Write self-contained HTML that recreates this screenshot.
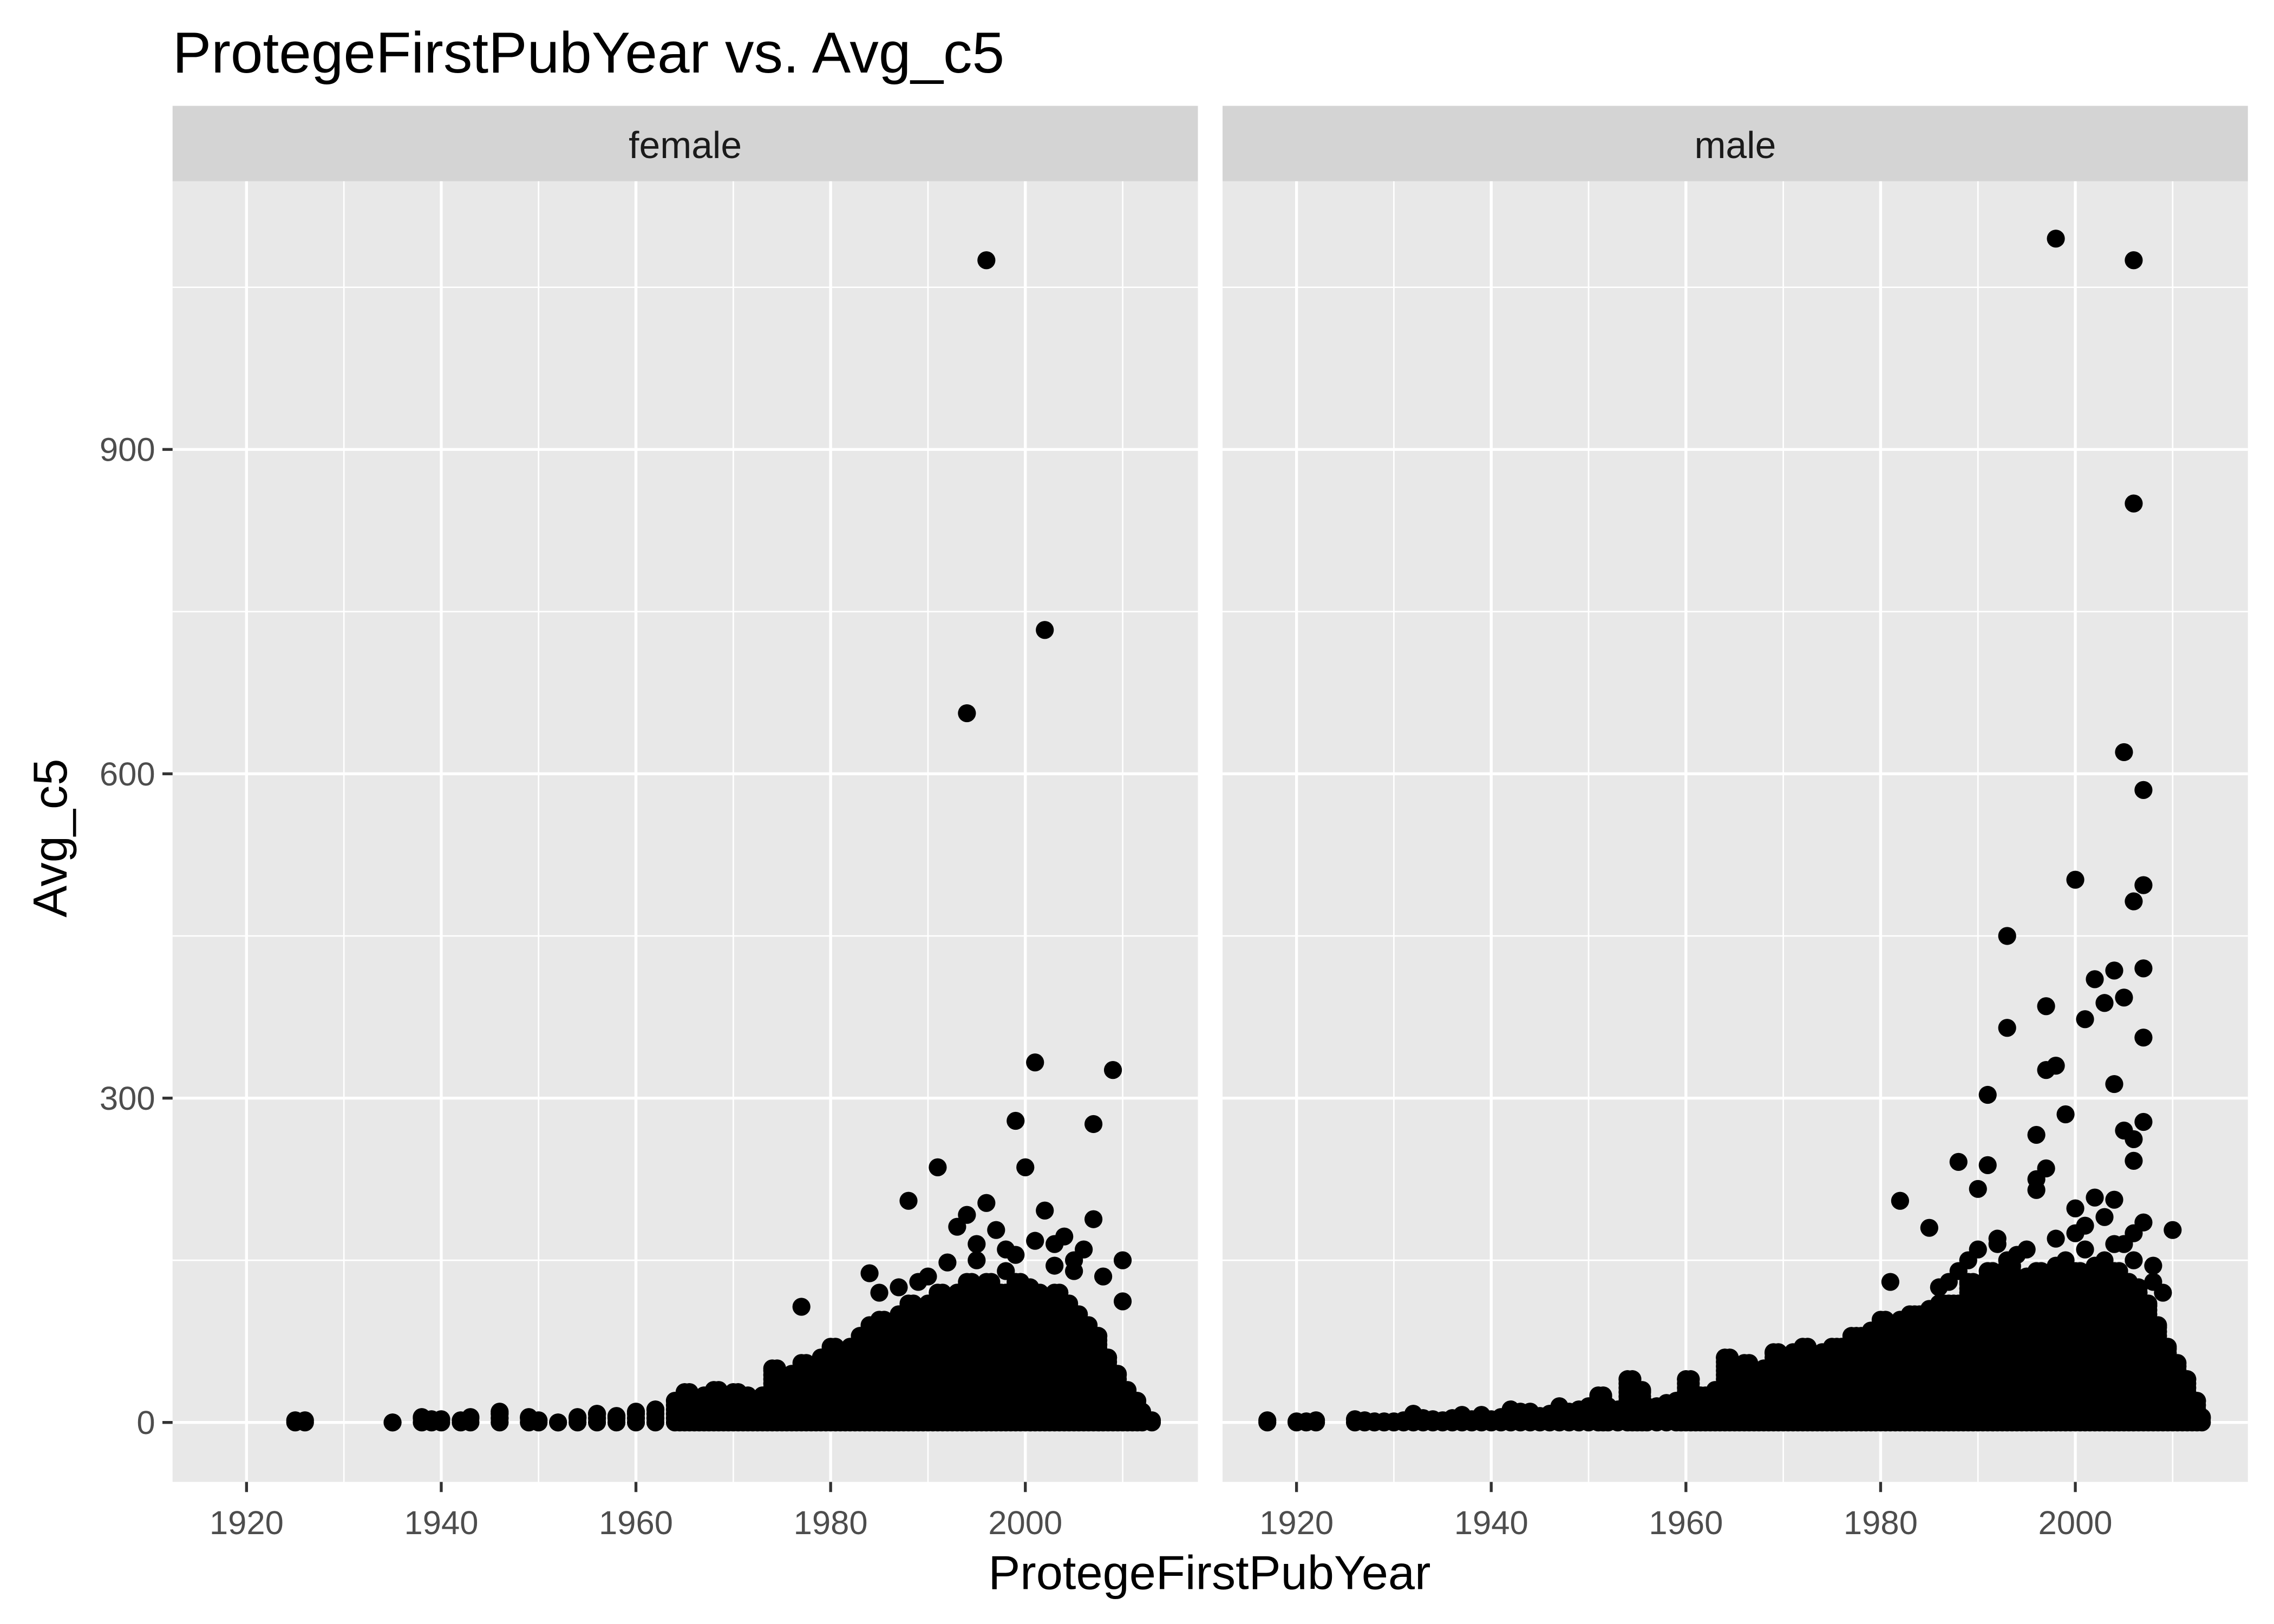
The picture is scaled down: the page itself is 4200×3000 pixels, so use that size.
<!DOCTYPE html>
<html><head><meta charset="utf-8"><style>html,body{margin:0;padding:0;background:#fff}svg{display:block}</style></head>
<body>
<svg id="chart" xmlns="http://www.w3.org/2000/svg" width="4200" height="3000" viewBox="0 0 1568 1120" preserveAspectRatio="none" font-family="Liberation Sans, sans-serif">
<text x="119" y="50" font-size="40" fill="#000">ProtegeFirstPubYear vs. Avg_c5</text>
<text transform="translate(46,578) rotate(-90)" text-anchor="middle" font-size="33" fill="#000">Avg_c5</text>
<text x="834" y="1096" text-anchor="middle" font-size="33" fill="#000">ProtegeFirstPubYear</text>
<g id="panels"></g>
</svg>
<script>
const xTicks = [1920, 1940, 1960, 1980, 2000];
const xMinor = [1930, 1950, 1970, 1990, 2010];
const yTicks = [0, 300, 600, 900];
const yMinor = [150, 450, 750, 1050];
const panelNames = ["female", "male"];

const femaleYears = [1925,1926,1935,1938,1939,1940,1942,1943,1946,1949,1950,1952,1954,1956,1958,1960,1962,1964,1965,1966,1967,1968,1969,1970,1971,1972,1973,1974,1975,1976,1977,1978,1979,1980,1981,1982,1983,1984,1985,1986,1987,1988,1989,1990,1991,1992,1993,1994,1995,1996,1997,1998,1999,2000,2001,2002,2003,2004,2005,2006,2007,2008,2009,2010,2011,2012,2013];
const femaleDenseTop = [2,2,0,5,3,3,2,5,10,5,2,0,5,8,6,10,12,20,28,22,25,30,22,28,25,20,25,50,40,45,55,50,60,70,65,70,80,90,95,90,100,110,100,110,120,110,120,130,120,130,120,120,130,125,120,115,120,110,100,90,80,60,45,30,20,10,2];
const femaleOutX = [1996,2002,1994,2001,2009,1999,2007,1991,2000,1988,1996,1994,2002,2007,1993,1997,2004,2001,2006,1995,1984,1977,2010,2010,1990,1992,1999,2005,2008,2003,1998,1985,1987,1989,1995,1998,2003,2005];
const femaleOutY = [1075,733,656,333,326,279,276,236,236,205,203,192,196,188,181,178,172,168,160,165,138,107,150,112,135,148,155,150,135,145,140,120,125,130,150,160,165,140];

const maleYears = [1917,1920,1921,1922,1926,1927,1928,1929,1930,1931,1932,1933,1934,1935,1936,1937,1938,1939,1940,1941,1942,1943,1944,1945,1946,1947,1948,1949,1950,1951,1952,1953,1954,1955,1956,1957,1958,1959,1960,1961,1962,1963,1964,1965,1966,1967,1968,1969,1970,1971,1972,1973,1974,1975,1976,1977,1978,1979,1980,1981,1982,1983,1984,1985,1986,1987,1988,1989,1990,1991,1992,1993,1994,1995,1996,1997,1998,1999,2000,2001,2002,2003,2004,2005,2006,2007,2008,2009,2010,2011,2012,2013];
const maleDenseTop = [2,1,1,2,3,2,1,1,1,2,8,4,3,2,4,7,3,7,3,5,12,10,10,6,8,15,10,12,15,25,15,12,40,30,15,15,18,20,40,25,25,30,60,30,55,45,50,65,60,65,70,60,65,70,70,80,80,85,95,90,95,100,100,105,110,110,110,130,120,140,125,145,120,135,140,125,145,130,140,130,145,125,140,130,125,110,90,70,55,40,20,5];
const maleOutX = [1998,2006,2006,2005,2007,2000,2007,2006,1993,2007,2004,2002,2005,2003,1997,2001,1993,1998,1997,2007,1991,2004,1999,2007,2005,1996,2006,2006,1988,1991,1997,1996,1990,1996,1982,2000,2002,2004,2001,2003,2000,1985,1992,2010,2007,2006,1998,1994,1981,1988,2008,2005,1989,1990,1992,1993,1995,1999,2001,2003,2004,2006,2008,2009,1986,1987];
const maleOutY = [1095,1075,850,620,585,502,497,482,450,420,418,410,393,388,385,373,365,330,326,356,303,313,285,278,270,266,262,242,241,238,235,225,216,215,205,198,208,206,182,190,175,180,170,178,185,175,170,155,130,140,145,165,150,160,165,150,160,150,160,150,165,150,130,120,125,130];

const NS = "http://www.w3.org/2000/svg";
const panelsG = document.getElementById("panels");
const panelLeft = [119, 843], panelW = 707, stripTop = 73, plotTop = 125, plotBottom = 1022;
const R = 6.2;
function xScale(p, yr) { return panelLeft[p] + 51 + (yr - 1920) * 6.7125; }
function yScale(v) { return 981 - v * 0.7456; }
function mk(tag, attrs, parent) {
  const e = document.createElementNS(NS, tag);
  for (const k in attrs) e.setAttribute(k, attrs[k]);
  parent.appendChild(e);
  return e;
}
const datasets = [
  {years: femaleYears, top: femaleDenseTop, ox: femaleOutX, oy: femaleOutY},
  {years: maleYears, top: maleDenseTop, ox: maleOutX, oy: maleOutY}
];
for (let p = 0; p < 2; p++) {
  const g = mk("g", {}, panelsG);
  
  
  const L = panelLeft[p];
  const bg = mk("rect", {x: L, y: plotTop, width: panelW, height: plotBottom - plotTop, fill: "#e8e8e8"}, g);
  
  
  const strip = mk("rect", {x: L, y: stripTop, width: panelW, height: plotTop - stripTop, fill: "#d4d4d4"}, g);
  
  
  const st = mk("text", {x: L + panelW / 2, y: 109, "text-anchor": "middle", "font-size": 26, fill: "#1a1a1a"}, g);
  st.textContent = panelNames[p];
  
  
  xMinor.forEach(v => { const l = mk("line", {x1: xScale(p, v), x2: xScale(p, v), y1: plotTop, y2: plotBottom, stroke: "#fff", "stroke-width": 1}, g);   });
  yMinor.forEach(v => { const l = mk("line", {x1: L, x2: L + panelW, y1: yScale(v), y2: yScale(v), stroke: "#fff", "stroke-width": 1}, g);   });
  xTicks.forEach(v => {
    const x = xScale(p, v);
    const l = mk("line", {x1: x, x2: x, y1: plotTop, y2: plotBottom, stroke: "#fff", "stroke-width": 2}, g);
    
    
    const tk = mk("line", {x1: x, x2: x, y1: plotBottom, y2: plotBottom + 7, stroke: "#333", "stroke-width": 2}, g);
    
    
    const t = mk("text", {x: x, y: plotBottom + 36, "text-anchor": "middle", "font-size": 23, fill: "#4d4d4d"}, g);
    t.textContent = v;
    
    
  });
  yTicks.forEach(v => {
    const y = yScale(v);
    const l = mk("line", {x1: L, x2: L + panelW, y1: y, y2: y, stroke: "#fff", "stroke-width": 2}, g);
    
    
    if (p === 0) {
      const tk = mk("line", {x1: L - 7, x2: L, y1: y, y2: y, stroke: "#333", "stroke-width": 2}, g);
      
      
      const t = mk("text", {x: L - 12, y: y + 8, "text-anchor": "end", "font-size": 23, fill: "#4d4d4d"}, g);
      t.textContent = v;
      
      
    }
  });
  const d = datasets[p];
  const pts = mk("g", {fill: "#000"}, g);
  
  
  d.years.forEach((yr, i) => {
    const top = d.top[i];
    const cols = top >= 20 ? [yr, yr + 0.5] : [yr];
    cols.forEach(cx => {
      for (let v = 0; v <= top; v += 4) {
        const c = mk("circle", {cx: xScale(p, cx), cy: yScale(v), r: R}, pts);
        
        
      }
      const c = mk("circle", {cx: xScale(p, cx), cy: yScale(top), r: R}, pts);
      
      
    });
  });
  d.ox.forEach((yr, i) => {
    const c = mk("circle", {cx: xScale(p, yr), cy: yScale(d.oy[i]), r: R}, pts);
    
    
  });
}
</script>
</body></html>
